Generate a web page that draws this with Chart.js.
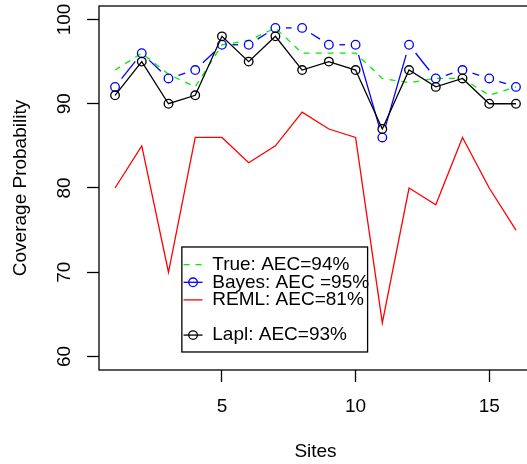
<!DOCTYPE html>
<html>
<head>
<meta charset="utf-8">
<script src="https://cdn.jsdelivr.net/npm/chart.js@4"></script>
<style>
  html, body { margin: 0; padding: 0; background: #fff; overflow: hidden; }
  canvas { display: block; }
</style>
</head>
<body>
<canvas id="coverageChart" width="540" height="464"></canvas>
<script>
// Sites and coverage probabilities (%)
const sites = [1, 2, 3, 4, 5, 6, 7, 8, 9, 10, 11, 12, 13, 14, 15, 16];
const trueCov = [94, 96, 93.5, 92, 97, 97.5, 99, 96, 96, 96, 93, 92.5, 93, 93, 91, 92];
const bayesCov = [92, 96, 93, 94, 97, 97, 99, 99, 97, 97, 86, 97, 93, 94, 93, 92];
const remlCov = [80, 85, 70, 86, 86, 83, 85, 89, 87, 86, 64, 80, 78, 86, 80, 75];
const laplCov = [91, 95, 90, 91, 98, 95, 98, 94, 95, 94, 87, 94, 92, 93, 90, 90];

const seriesLabels = ['True: AEC=94%', 'Bayes: AEC =95%', 'REML: AEC=81%', 'Lapl: AEC=93%'];
const xTicks = [5, 10, 15];
const yTicks = [60, 70, 80, 90, 100];

const FONT = "'Liberation Sans', Arial, Helvetica, sans-serif";
const LW = 1.3;

function toPoints(values) {
    return values.map((v, i) => ({ x: sites[i], y: v }));
}

// gaps around the points, like R type="b"
function gappedDash(ctx) {
    const g = 10.5;
    const L = Math.hypot(ctx.p1.x - ctx.p0.x, ctx.p1.y - ctx.p0.y);
    if (L <= 2 * g) return [0, 10000 + ctx.p0DataIndex];
    return [0, g, L - 2 * g, 10000 + ctx.p0DataIndex];
}

// box around the plot region
const boxPlugin = {
    id: 'plotBox',
    afterDatasetsDraw(chart) {
        const a = chart.chartArea;
        const ctx = chart.ctx;
        ctx.save();
        ctx.strokeStyle = '#000';
        ctx.lineWidth = LW;
        ctx.strokeRect(a.left, a.top, a.right - a.left, a.bottom - a.top);
        ctx.restore();
    }
};

// legend box placed in data coordinates, with an empty row before Lapl
const legendPlugin = {
    id: 'boxLegend',
    afterDatasetsDraw(chart) {
        const ctx = chart.ctx;
        const x = chart.scales.x, y = chart.scales.y;
        const left = x.getPixelForValue(3.5);
        const top = y.getPixelForValue(73);
        const rows = [0, 1, 2, 4];
        const rowH = 17.6;
        const textX = left + 30.4;

        ctx.save();
        ctx.font = '19px ' + FONT;
        let maxW = 0;
        chart.data.datasets.forEach(ds => { maxW = Math.max(maxW, ctx.measureText(ds.label).width); });
        const w = 30.4 + maxW - 1.5;
        const h = 105;
        ctx.fillStyle = '#fff';
        ctx.fillRect(left, top, w, h);
        ctx.strokeStyle = '#000';
        ctx.lineWidth = LW;
        ctx.strokeRect(left, top, w, h);

        chart.data.datasets.forEach((ds, i) => {
            const ry = top + 17.7 + rows[i] * rowH;
            ctx.strokeStyle = ds.borderColor;
            ctx.lineWidth = LW;
            ctx.setLineDash(ds.borderDash || []);
            ctx.beginPath();
            ctx.moveTo(left + 1.7, ry);
            ctx.lineTo(left + 20.7, ry);
            ctx.stroke();
            ctx.setLineDash([]);
            if (ds.pointRadius > 0) {
                ctx.beginPath();
                ctx.arc(left + 11.2, ry, ds.pointRadius, 0, Math.PI * 2);
                ctx.stroke();
            }
            ctx.fillStyle = '#000';
            ctx.textBaseline = 'middle';
            ctx.textAlign = 'left';
            ctx.fillText(ds.label, textX, ry);
        });
        ctx.restore();
    }
};

const ctx = document.getElementById('coverageChart').getContext('2d');
new Chart(ctx, {
    type: 'line',
    data: {
        datasets: [
            {
                label: seriesLabels[0],
                data: toPoints(trueCov),
                borderColor: '#00ee00',
                borderWidth: LW,
                borderDash: [6, 6],
                pointRadius: 0,
                order: 4
            },
            {
                label: seriesLabels[1],
                data: toPoints(bayesCov),
                borderColor: '#0000ff',
                borderWidth: LW,
                pointRadius: 4.3,
                pointBorderWidth: LW,
                pointBackgroundColor: 'rgba(0,0,0,0)',
                pointBorderColor: '#0000ff',
                segment: { borderDash: gappedDash },
                order: 3
            },
            {
                label: seriesLabels[2],
                data: toPoints(remlCov),
                borderColor: '#ff0000',
                borderWidth: LW,
                pointRadius: 0,
                order: 2
            },
            {
                label: seriesLabels[3],
                data: toPoints(laplCov),
                borderColor: '#000000',
                borderWidth: LW,
                pointRadius: 4.3,
                pointBorderWidth: LW,
                pointBackgroundColor: 'rgba(0,0,0,0)',
                pointBorderColor: '#000000',
                order: 1
            }
        ]
    },
    options: {
        responsive: false,
        animation: false,
        events: [],
        layout: { padding: { top: 6, right: 8, left: 0, bottom: 0 } },
        elements: { line: { tension: 0 } },
        plugins: {
            legend: { display: false },
            tooltip: { enabled: false }
        },
        scales: {
            x: {
                type: 'linear',
                min: 0.4,
                max: 16.6,
                afterBuildTicks: s => { s.ticks = xTicks.map(v => ({ value: v })); },
                afterFit: s => { s.height = 94; s.paddingLeft = 0; s.paddingRight = 0; },
                grid: { display: true, drawOnChartArea: false, drawTicks: true, tickLength: 12, tickColor: '#000', tickWidth: LW },
                border: { display: false },
                ticks: { color: '#000', font: { family: FONT, size: 19 }, padding: 13, maxRotation: 0, minRotation: 0 },
                title: { display: true, text: 'Sites', color: '#000', font: { family: FONT, size: 19 }, padding: { top: 0, bottom: 1 } }
            },
            y: {
                type: 'linear',
                min: 58.4,
                max: 101.6,
                afterBuildTicks: s => { s.ticks = yTicks.map(v => ({ value: v })); },
                afterFit: s => { s.width = 99; s.paddingTop = 0; s.paddingBottom = 0; },
                grid: { display: true, drawOnChartArea: false, drawTicks: true, tickLength: 12, tickColor: '#000', tickWidth: LW },
                border: { display: false },
                ticks: { color: '#000', font: { family: FONT, size: 19 }, padding: 6, crossAlign: 'center', minRotation: 90, maxRotation: 90 },
                title: { display: true, text: 'Coverage Probability', color: '#000', font: { family: FONT, size: 19 }, padding: { top: 9, bottom: 0 } }
            }
        }
    },
    plugins: [boxPlugin, legendPlugin]
});
</script>
</body>
</html>
